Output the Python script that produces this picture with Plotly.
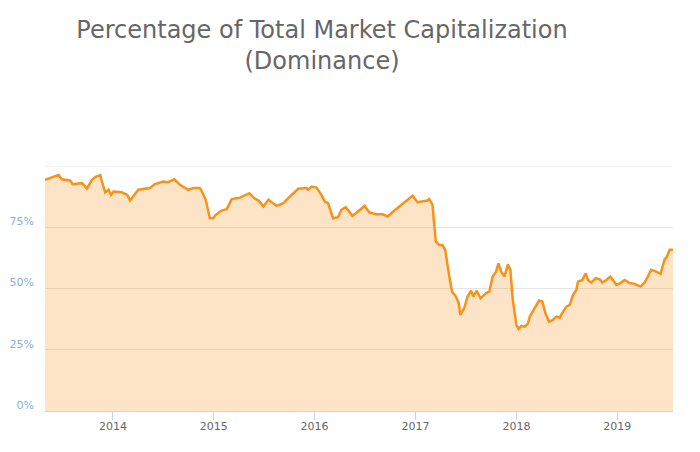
import plotly.graph_objects as go

dates = [
    "2013-04-30", "2013-06-06", "2013-06-18", "2013-06-30", "2013-07-30", "2013-08-08",
    "2013-09-11", "2013-09-29", "2013-10-17", "2013-10-29", "2013-11-16", "2013-11-22",
    "2013-12-04", "2013-12-16", "2013-12-25", "2014-01-03", "2014-02-02", "2014-02-22",
    "2014-03-04", "2014-04-03", "2014-05-15", "2014-06-02", "2014-07-02", "2014-07-20",
    "2014-08-11", "2014-09-01", "2014-10-01", "2014-10-19", "2014-11-12", "2014-11-18",
    "2014-12-03", "2014-12-18", "2014-12-30", "2015-01-09", "2015-01-30", "2015-02-17",
    "2015-03-07", "2015-04-06", "2015-05-10", "2015-05-31", "2015-06-12", "2015-06-30",
    "2015-07-18", "2015-08-17", "2015-09-10", "2015-09-28", "2015-10-16", "2015-11-03",
    "2015-12-03", "2015-12-09", "2015-12-21", "2016-01-08", "2016-01-26", "2016-02-07",
    "2016-02-19", "2016-03-08", "2016-03-26", "2016-04-07", "2016-04-23", "2016-05-07",
    "2016-05-17", "2016-05-31", "2016-06-12", "2016-06-30", "2016-07-18", "2016-08-11",
    "2016-09-04", "2016-09-22", "2016-10-10", "2016-11-03", "2016-11-27", "2016-12-21",
    "2017-01-08", "2017-02-13", "2017-02-19", "2017-03-03", "2017-03-15", "2017-03-27",
    "2017-04-08", "2017-04-18", "2017-05-03", "2017-05-13", "2017-05-27", "2017-06-06",
    "2017-06-12", "2017-06-26", "2017-07-08", "2017-07-21", "2017-07-29", "2017-08-10",
    "2017-08-24", "2017-09-13", "2017-09-25", "2017-10-07", "2017-10-19", "2017-10-28",
    "2017-11-07", "2017-11-19", "2017-12-01", "2017-12-10", "2017-12-19", "2018-01-01",
    "2018-01-09", "2018-01-19", "2018-01-31", "2018-02-12", "2018-02-18", "2018-03-08",
    "2018-03-24", "2018-04-05", "2018-04-16", "2018-04-29", "2018-05-13", "2018-05-26",
    "2018-06-07", "2018-06-19", "2018-07-01", "2018-07-13", "2018-07-25", "2018-08-06",
    "2018-08-12", "2018-08-28", "2018-09-09", "2018-09-17", "2018-09-29", "2018-10-15",
    "2018-10-29", "2018-11-08", "2018-11-23", "2018-12-07", "2018-12-16", "2018-12-29",
    "2019-01-12", "2019-01-28", "2019-02-15", "2019-03-05", "2019-03-26", "2019-04-10",
    "2019-04-22", "2019-05-04", "2019-05-22", "2019-06-07", "2019-06-22", "2019-06-28",
    "2019-07-10", "2019-07-22",
]

dominance = [
    94.4, 96.0, 96.3, 94.6, 94.1, 92.6,
    93.0, 90.8, 94.4, 95.5, 96.3, 93.7,
    89.2, 90.3, 88.2, 89.6, 89.3, 88.2,
    85.9, 90.3, 91.0, 92.6, 93.7, 93.4,
    94.6, 92.3, 90.3, 91.0, 91.0, 89.9,
    86.2, 78.7, 78.7, 80.1, 81.8, 82.4,
    86.5, 87.1, 88.9, 86.6, 85.9, 83.5,
    86.2, 83.7, 84.8, 86.9, 88.9, 90.7,
    91.0, 90.3, 91.6, 91.2, 88.2, 85.5,
    84.8, 78.7, 79.1, 82.1, 83.2, 81.0,
    79.7, 80.8, 82.1, 83.7, 81.0, 80.3,
    80.3, 79.4, 81.2, 83.5, 85.9, 87.8,
    85.2, 85.9, 86.5, 84.2, 69.2, 67.8,
    67.8, 65.8, 54.9, 48.7, 46.7, 44.0,
    39.2, 42.0, 46.7, 49.1, 46.7, 49.0,
    46.0, 48.1, 48.7, 54.9, 56.9, 60.3,
    56.9, 54.9, 59.9, 57.6, 45.3, 35.1,
    33.5, 34.7, 34.4, 35.8, 38.5, 42.0,
    45.1, 44.7, 39.9, 36.5, 37.2, 38.5,
    38.1, 40.6, 42.6, 43.3, 47.4, 49.4,
    52.8, 53.5, 56.2, 53.5, 52.4, 54.2,
    53.8, 52.4, 53.5, 54.9, 53.5, 51.5,
    52.2, 53.5, 52.2, 51.9, 50.8, 52.4,
    54.9, 57.6, 56.9, 56.0, 62.0, 62.5,
    65.8, 65.8,
]

y_tick_values = [0, 25, 50, 75, 100]
y_tick_labels = ["0%", "25%", "50%", "75%", ""]
y_max = 100
x_tick_values = ["2014-01-01", "2015-01-01", "2016-01-01", "2017-01-01", "2018-01-01", "2019-01-01"]
x_tick_labels = ["2014", "2015", "2016", "2017", "2018", "2019"]

# The page body adds an 8px offset; the figure is sized to fill the rest of the window.
W, H = 692, 444

fig = go.Figure()
fig.add_trace(go.Scatter(
    x=dates, y=dominance, mode="lines",
    line=dict(color="#f7931a", width=2.5),
    fill="tozeroy", fillcolor="rgba(247,147,26,0.25)",
    showlegend=False,
))

# top gridline (100%), which Plotly omits at the plot edge
fig.add_shape(type="line", xref="paper", x0=0, x1=1, yref="y", y0=y_max, y1=y_max,
              line=dict(color="#e6e6e6", width=1), layer="below")

fig.update_layout(
    width=W, height=H,
    margin=dict(l=37, r=27, t=158, b=41),
    paper_bgcolor="white", plot_bgcolor="white",
    title=dict(
        text="Percentage of Total Market Capitalization<br>(Dominance)",
        x=314 / W, xanchor="center", y=1 - 30 / H, yanchor="top",
        font=dict(family="DejaVu Sans", size=24, color="#666666"),
    ),
    xaxis=dict(
        range=[dates[0], dates[-1]],
        tickvals=x_tick_values, ticktext=x_tick_labels,
        showgrid=False, showline=True, linecolor="#ccd6eb", linewidth=1,
        ticks="outside", ticklen=8, tickcolor="#ccd6eb",
        tickfont=dict(family="DejaVu Sans", size=11, color="#666666"),
        ticklabelstandoff=-3, automargin=False,
        zeroline=False,
    ),
    yaxis=dict(
        range=[0, y_max],
        tickvals=y_tick_values, ticktext=y_tick_labels,
        showgrid=True, gridcolor="#e6e6e6", gridwidth=1,
        showline=False, zeroline=False,
        tickfont=dict(family="DejaVu Sans", size=11, color="#88aee0"),
        ticklen=0, ticks="",
        ticklabelstandoff=10, ticklabelshift=-6, automargin=False,
    ),
)

fig.write_html("out.html")
